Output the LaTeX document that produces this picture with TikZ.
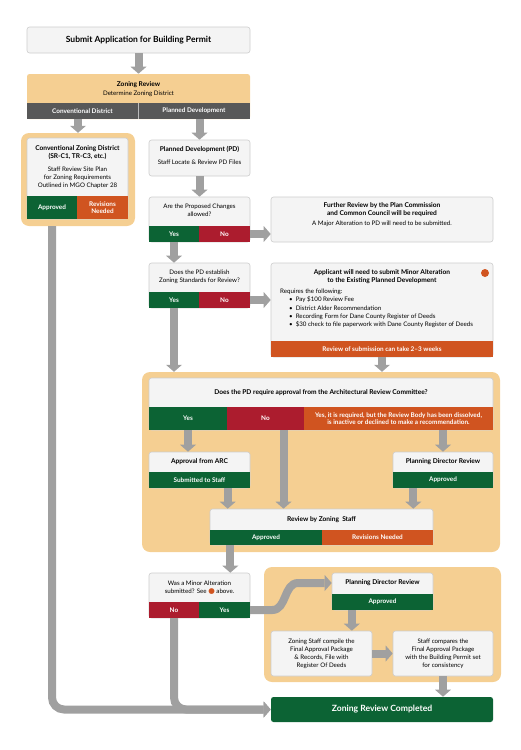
\documentclass[tikz,border=0pt]{standalone}
\usepackage{fontspec}
\setmainfont{Lato}
\newfontfamily\symfont{DejaVu Sans}
\usetikzlibrary{arrows.meta}

\definecolor{zonebeige}{RGB}{245,207,146}
\definecolor{okgreen}{RGB}{12,99,52}
\definecolor{nored}{RGB}{172,28,46}
\definecolor{revorange}{RGB}{208,84,32}
\definecolor{bardark}{RGB}{88,88,88}
\definecolor{flowgray}{RGB}{160,160,160}
\definecolor{boxfill}{RGB}{244,244,244}
\definecolor{boxline}{RGB}{205,205,205}

\tikzset{
  box/.style={rectangle, rounded corners=2.5pt, fill=boxfill, draw=boxline, line width=0.6pt, inner sep=0pt, align=center},
  zone/.style={rectangle, fill=zonebeige, rounded corners=8pt, inner sep=0pt},
  bar/.style={rectangle, inner sep=0pt, text=white, font=\fontsize{6.4}{7.6}\selectfont\bfseries, align=center},
  txt/.style={font=\fontsize{6.2}{8}\selectfont, align=center, inner sep=0pt},
  ttl/.style={font=\fontsize{6.6}{8}\selectfont\bfseries, align=center, inner sep=0pt},
  flow/.style={draw=flowgray, line width=8pt, -{Triangle[width=16pt,length=7pt,line width=0pt]}},
}

\begin{document}
\begin{tikzpicture}[x=1pt, y=-1pt]
      \useasboundingbox (0,0) rectangle (521,750);

      % Background zones
      \node[zone, minimum width=114pt, minimum height=93pt] (convzone) at (78,179.5) {};
      \node[zone, minimum width=358pt, minimum height=180pt] (arczone) at (321,462) {};
      \node[zone, minimum width=237pt, minimum height=115pt] (finzone) at (382.5,624.5) {};

      % Start and zoning district
      \node[box, minimum width=223pt, minimum height=26pt, font=\fontsize{8.5}{9}\selectfont\bfseries] (submit) at (138.5,40) {Submit Application for Building Permit};
      \node[box, fill=zonebeige, draw=none, minimum width=223pt, minimum height=45pt] (zr) at (138.5,96.5) {};
      \node[ttl] (zrt) at (138.5,85) {Zoning Review};
      \node[txt] (zrs) at (138.5,94) {Determine Zoning District};
      \node[bar, fill=bardark, minimum width=111pt, minimum height=16pt] (convbar) at (82.5,111) {Conventional District};
      \node[bar, fill=bardark, minimum width=112pt, minimum height=16pt] (pdbar) at (194,111) {Planned Development};
      \draw[white!60!bardark, line width=0.6pt] (convbar.north east) -- (convbar.south east);

      % Conventional district
      \node[box, minimum width=101pt, minimum height=81pt] (convbox) at (77.5,178.5) {};
      \node[ttl] (convt) at (77.5,152.5) {Conventional Zoning District\\(SR-C1, TR-C3, etc.)};
      \node[txt] (convs) at (77.5,177.5) {Staff Review Site Plan\\for Zoning Requirements\\Outlined in MGO Chapter 28};
      \node[bar, fill=okgreen, minimum width=50pt, minimum height=23pt] (convok) at (52,207.5) {Approved};
      \node[bar, fill=revorange, minimum width=51pt, minimum height=23pt] (convrev) at (102.5,207.5) {Revisions\\Needed};

      % Planned development
      \node[box, minimum width=101pt, minimum height=36pt] (pdbox) at (199.5,158) {};
      \node[ttl] (pdt) at (199.5,149) {Planned Development (PD)};
      \node[txt] (pds) at (199.5,162) {Staff Locate \& Review PD Files};

      % Are the changes allowed
      \node[box, minimum width=101pt, minimum height=45pt] (q1) at (199.5,219.5) {};
      \node[txt] (q1t) at (199.5,210.5) {Are the Proposed Changes\\allowed?};
      \node[bar, fill=okgreen, minimum width=50pt, minimum height=16pt] (q1yes) at (174,234) {Yes};
      \node[bar, fill=nored, minimum width=51pt, minimum height=16pt] (q1no) at (224.5,234) {No};

      \node[box, minimum width=222pt, minimum height=45pt] (major) at (382,219.5) {};
      \node[ttl] (majort) at (382,209.5) {Further Review by the Plan Commission\\and Common Council will be required};
      \node[txt] (majors) at (382,223.5) {A Major Alteration to PD will need to be submitted.};

      % Zoning standards
      \node[box, minimum width=101pt, minimum height=45pt] (q2) at (199.5,285.5) {};
      \node[txt] (q2t) at (199.5,276.5) {Does the PD establish\\Zoning Standards for Review?};
      \node[bar, fill=okgreen, minimum width=50pt, minimum height=16pt] (q2yes) at (174,300) {Yes};
      \node[bar, fill=nored, minimum width=51pt, minimum height=16pt] (q2no) at (224.5,300) {No};

      \node[box, minimum width=222pt, minimum height=94pt] (minor) at (382,310) {};
      \node[ttl] (minort) at (382,276.5) {Applicant will need to submit Minor Alteration\\to the Existing Planned Development};
      \node[txt, align=left, anchor=north west, font=\fontsize{6.2}{8.4}\selectfont] (minorlist) at (280,288.5) {Requires the following:\\
        \hspace*{9pt}\textbullet\hspace{3pt}Pay \$100 Review Fee\\
        \hspace*{9pt}\textbullet\hspace{3pt}District Alder Recommendation\\
        \hspace*{9pt}\textbullet\hspace{3pt}Recording Form for Dane County Register of Deeds\\
        \hspace*{9pt}\textbullet\hspace{3pt}\$30 check to file paperwork with Dane County Register of Deeds};
      \node[bar, fill=revorange, minimum width=222pt, minimum height=16pt] (minorbar) at (382,349) {Review of submission can take 2--3 weeks};
      \node[circle, fill=revorange, minimum size=8pt, inner sep=0pt] (dot) at (485,273) {};

      % Architectural review
      \node[box, minimum width=344pt, minimum height=52pt] (q3) at (321,404) {};
      \node[ttl] (q3t) at (321,392.5) {Does the PD require approval from the Architectural Review Committee?};
      \node[bar, fill=okgreen, minimum width=78pt, minimum height=23pt] (q3yes) at (188,418.5) {Yes};
      \node[bar, fill=nored, minimum width=77pt, minimum height=23pt] (q3no) at (265.5,418.5) {No};
      \node[bar, fill=revorange, minimum width=189pt, minimum height=23pt] (q3void) at (398.5,418.5) {Yes, it is required, but the Review Body has been dissolved,\\is inactive or declined to make a recommendation.};

      \node[box, minimum width=101pt, minimum height=36pt] (arcbox) at (199.5,470) {};
      \node[ttl] (arct) at (199.5,461.5) {Approval from ARC};
      \node[bar, fill=okgreen, minimum width=101pt, minimum height=16pt] (arcok) at (199.5,480) {Submitted to Staff};

      \node[box, minimum width=100pt, minimum height=36pt] (pdrbox) at (443,470) {};
      \node[ttl] (pdrt) at (443,461.5) {Planning Director Review};
      \node[bar, fill=okgreen, minimum width=100pt, minimum height=16pt] (pdrok) at (443,480) {Approved};

      \node[box, minimum width=223pt, minimum height=36pt] (staffbox) at (321.5,527) {};
      \node[ttl] (stafft) at (321.5,519.5) {Review by Zoning\ \ Staff};
      \node[bar, fill=okgreen, minimum width=112pt, minimum height=15pt] (staffok) at (266,537.5) {Approved};
      \node[bar, fill=revorange, minimum width=111pt, minimum height=15pt] (staffrev) at (377.5,537.5) {Revisions Needed};

      % Minor alteration check
      \node[box, minimum width=101pt, minimum height=45pt] (q4) at (199.5,595.5) {};
      \node[txt] (q4t) at (199.5,587.5) {Was a Minor Alteration\\submitted? See {\symfont\fontsize{7.5}{8}\selectfont\textcolor{revorange}{●}} above.};
      \node[bar, fill=nored, minimum width=50pt, minimum height=16pt] (q4no) at (174,610) {No};
      \node[bar, fill=okgreen, minimum width=51pt, minimum height=16pt] (q4yes) at (224.5,610) {Yes};

      % Final steps
      \node[box, minimum width=101pt, minimum height=37pt] (pdr2) at (382.5,591.5) {};
      \node[ttl] (pdr2t) at (382.5,583) {Planning Director Review};
      \node[bar, fill=okgreen, minimum width=101pt, minimum height=16pt] (pdr2ok) at (382.5,602) {Approved};

      \node[box, txt, minimum width=101pt, minimum height=45pt] (compile) at (321.5,653.5) {Zoning Staff compile the\\Final Approval Package\\\& Records, File with\\Register Of Deeds};
      \node[box, txt, minimum width=100pt, minimum height=45pt] (compare) at (443,653.5) {Staff compares the\\Final Approval Package\\with the Building Permit set\\for consistency};

      \node[box, fill=okgreen, draw=none, text=white, minimum width=222pt, minimum height=25pt, font=\fontsize{8.6}{9}\selectfont\bfseries] (done) at (382,709.5) {Zoning Review Completed};

      % Helper points on box edges
      \coordinate (sa) at ([xshift=18pt]staffbox.north west);
      \coordinate (sb) at ([xshift=-20pt]staffbox.north east);
      \coordinate (sc) at ([xshift=-20pt]q4.north east);

      % Draw the connectors
      \draw[flow] (submit) -- (zr);
      \draw[flow] (convzone |- convbar.south) -- (convzone.north);
      \draw[flow] (pdbox |- pdbar.south) -- (pdbox.north);
      \draw[flow] (pdbox) -- (q1);
      \draw[flow] (q1no.east) -- (q1no.east -| major.west);
      \draw[flow] (q1yes.south) -- (q1yes |- q2.north);
      \draw[flow] (q2no.east) -- (q2no.east -| minor.west);
      \draw[flow] (q2yes.south) -- (q2yes |- arczone.north);
      \draw[flow] (minorbar.south) -- (minorbar |- arczone.north);
      \draw[flow] (q3yes.south) -- (q3yes |- arcbox.north);
      \draw[flow] ([xshift=18pt]q3no.south) -- ([xshift=18pt]q3no.south |- staffbox.north);
      \draw[flow] (pdrbox |- q3void.south) -- (pdrbox.north);
      \draw[flow] (arcok.south -| sa) -- (sa);
      \draw[flow] (pdrok.south -| sb) -- (sb);
      \draw[flow] (staffok.south -| sc) -- (sc);
      \draw[flow] (q4yes.east) -- ++(22,0) to[out=0,in=180] ++(26,-27) -- (pdr2.west |- pdr2t);
      \draw[flow] ([xshift=20pt]pdr2ok.south west) -- ([xshift=20pt]pdr2ok.south west |- compile.north);
      \draw[flow] (compile) -- (compare);
      \draw[flow] (compare.south) -- (compare.south |- done.north);
      \draw[flow, rounded corners=12pt] (convok |- convzone.south) |- (done.west);
      \draw[flow, rounded corners=12pt] (q4no.south) |- (done.west);
\end{tikzpicture}
\end{document}
